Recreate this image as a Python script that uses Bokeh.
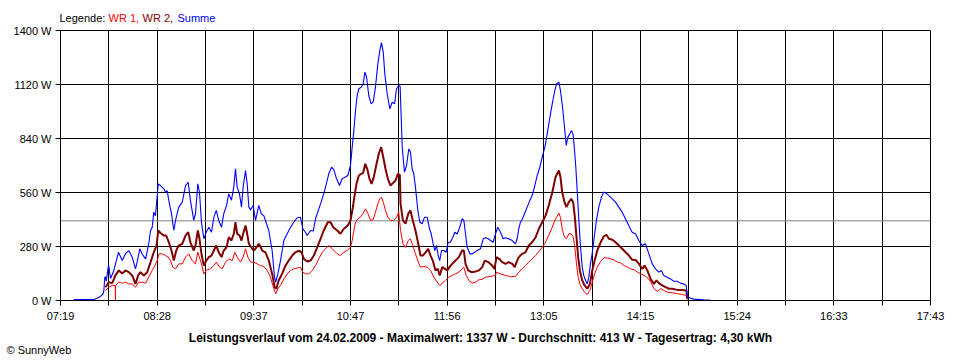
import numpy as np
from bokeh.plotting import figure
from bokeh.layouts import column
from bokeh.models import Range1d, FixedTicker, PrintfTickFormatter, Span, Label
from bokeh.embed import file_html
from bokeh.resources import INLINE

# ---------------- data (time = minutes since midnight, power in W) ----------------
T_START, T_END = 439, 1063          # 07:19 .. 17:43
X_TICK_LABELS = ["07:19", "08:28", "09:37", "10:47", "11:56",
                 "13:05", "14:15", "15:24", "16:33", "17:43"]
Y_TICKS = [0, 280, 560, 840, 1120, 1400]
AVERAGE = 413

t_sum = [448.5, 453.3, 462.9, 465.3, 467.7, 469.6, 470.1, 470.8, 471.3, 471.8, 473.2, 473.6,
         474.9, 477.0, 479.7, 480.6, 483.3, 485.6, 488.0, 490.4, 492.8, 494.0, 495.9, 497.6,
         500.0, 502.3, 503.6, 504.8, 505.9, 507.1, 508.4, 509.1, 510.7, 513.1, 514.3, 515.5,
         516.7, 518.6, 520.3, 521.5, 523.8, 526.3, 528.7, 530.6, 532.2, 534.6, 535.8, 537.5,
         538.7, 540.1, 541.8, 543.5, 545.4, 547.3, 549.0, 550.7, 552.5, 554.5, 556.1, 558.1,
         559.7, 561.6, 563.3, 564.5, 565.7, 567.4, 568.8, 570.0, 571.7, 572.9, 574.1, 575.3,
         577.2, 578.9, 581.2, 583.0, 584.8, 586.0, 588.4, 590.8, 592.5, 593.4, 594.9, 596.8,
         599.2, 601.6, 604.0, 606.3, 608.8, 611.1, 612.8, 614.7, 615.9, 618.3, 620.3, 621.9,
         624.3, 626.7, 629.1, 631.4, 633.4, 635.0, 637.0, 639.1, 641.0, 643.4, 645.1, 647.0,
         648.2, 649.4, 650.6, 651.8, 653.0, 654.7, 656.1, 657.3, 658.5, 660.1, 661.8, 663.3,
         664.9, 666.6, 668.0, 669.2, 670.5, 671.6, 673.3, 675.2, 676.9, 678.6, 680.0, 681.6,
         682.6, 684.1, 685.7, 687.2, 688.8, 690.0, 691.2, 692.4, 693.6, 695.3, 696.7, 698.4,
         700.1, 702.0, 703.4, 704.9, 706.3, 707.5, 708.7, 709.9, 711.0, 712.3, 713.9, 715.6,
         717.1, 718.7, 720.4, 721.8, 723.5, 725.4, 727.1, 728.3, 729.5, 730.7, 732.6, 734.3,
         736.0, 737.9, 740.2, 742.2, 743.8, 745.8, 747.4, 749.3, 751.0, 752.6, 754.6, 756.5,
         758.2, 760.5, 763.0, 765.3, 766.5, 767.7, 768.9, 770.1, 771.8, 773.7, 775.6, 777.3,
         779.2, 780.9, 782.8, 784.5, 786.4, 788.1, 790.0, 791.7, 793.3, 794.8, 796.4, 797.6,
         799.1, 800.5, 801.7, 802.9, 804.3, 805.5, 806.7, 807.7, 808.6, 809.6, 810.8, 812.0,
         813.2, 814.3, 815.6, 816.8, 817.9, 819.1, 820.3, 821.5, 823.4, 825.1, 827.0, 828.6,
         830.6, 832.3, 834.7, 837.1, 839.4, 841.9, 844.2, 846.6, 849.0, 851.4, 853.8, 856.2,
         858.6, 861.0, 863.4, 865.8, 868.1, 869.9, 871.7, 874.2, 876.5, 878.9, 881.3, 883.7,
         886.1, 887.8, 888.5, 890.9, 893.2, 900.4, 905.2]
summe = [5, 5, 5, 12, 21, 35, 52, 121, 121, 100, 173, 181,
         114, 150, 225, 250, 207, 243, 259, 225, 164, 200, 268, 240,
         216, 294, 363, 380, 458, 440, 544, 605, 596, 579, 562, 570,
         518, 450, 363, 415, 484, 510, 596, 613, 518, 415, 450, 605,
         560, 406, 320, 354, 380, 354, 432, 467, 415, 380, 450, 493,
         553, 520, 588, 683, 588, 553, 484, 588, 674, 605, 484, 470,
         493, 415, 493, 450, 440, 415, 363, 259, 121, 95, 138, 207,
         311, 346, 380, 406, 429, 432, 372, 354, 337, 363, 360, 424,
         475, 527, 588, 657, 691, 680, 631, 596, 631, 640, 648, 700,
         795, 881, 985, 1063, 1098, 1106, 1123, 1184, 1160, 1063, 1020, 1030,
         1106, 1227, 1296, 1337, 1288, 1175, 1072, 994, 1028, 1020, 1098, 1115,
         1110, 795, 665, 700, 786, 770, 683, 657, 588, 467, 406, 398,
         432, 432, 380, 346, 294, 259, 285, 233, 207, 259, 259, 250,
         302, 302, 328, 354, 345, 380, 424, 415, 346, 276, 242, 242,
         250, 259, 268, 320, 325, 320, 311, 302, 346, 380, 354, 320,
         325, 320, 311, 294, 320, 372, 406, 420, 450, 484, 518, 544,
         596, 648, 691, 743, 795, 864, 950, 1020, 1080, 1123, 1132, 1089,
         1002, 898, 804, 847, 864, 881, 860, 778, 691, 570, 415, 276,
         173, 130, 104, 86, 121, 190, 242, 311, 415, 484, 536, 562,
         555, 544, 527, 510, 484, 458, 424, 389, 354, 346, 311, 285,
         294, 242, 190, 164, 147, 155, 130, 121, 112, 100, 100, 90,
         86, 78, 21, 12, 7, 3, 2]

t_wr2 = [471.3, 473.6, 476.1, 478.4, 480.8, 483.3, 485.6, 488.0, 490.4, 492.8, 494.7, 496.4,
         498.7, 501.2, 503.6, 505.9, 507.9, 509.1, 510.7, 513.1, 514.8, 516.7, 518.6, 520.3,
         522.0, 523.8, 526.3, 528.7, 530.6, 532.2, 534.6, 535.8, 537.5, 538.7, 540.1, 541.8,
         543.5, 545.4, 547.3, 549.0, 550.7, 552.5, 554.5, 556.1, 558.1, 559.7, 561.6, 563.3,
         564.5, 565.7, 567.4, 568.8, 570.0, 571.7, 572.9, 574.1, 575.8, 577.7, 579.6, 581.2,
         583.7, 586.0, 588.4, 590.8, 592.6, 593.8, 595.5, 597.9, 600.4, 602.7, 605.2, 607.5,
         609.9, 611.9, 613.5, 616.0, 618.3, 620.7, 623.1, 625.5, 627.8, 630.7, 632.7, 634.6,
         637.5, 639.8, 642.2, 645.1, 647.0, 648.7, 650.1, 651.3, 653.0, 654.7, 656.1, 657.6,
         659.0, 660.6, 662.1, 663.7, 665.7, 667.3, 669.0, 670.5, 672.1, 673.8, 675.7, 677.6,
         679.3, 681.0, 682.4, 682.9, 684.6, 686.5, 688.4, 690.0, 691.7, 693.6, 695.6, 697.2,
         698.9, 700.8, 702.7, 704.4, 706.0, 708.0, 709.6, 711.0, 712.8, 714.6, 716.4, 718.0,
         719.9, 722.3, 724.7, 727.1, 728.3, 729.5, 731.4, 733.8, 736.7, 739.0, 741.5, 743.3,
         745.8, 748.6, 750.3, 751.7, 753.9, 755.8, 758.2, 760.5, 763.0, 764.8, 766.1, 767.7,
         770.1, 772.5, 774.9, 777.3, 779.8, 782.1, 784.5, 786.9, 789.3, 791.7, 794.1, 796.5,
         797.6, 798.8, 800.5, 801.9, 803.6, 805.3, 806.7, 807.9, 809.1, 810.3, 811.5, 813.2,
         814.9, 816.8, 818.7, 820.4, 822.1, 824.0, 826.4, 828.8, 830.5, 832.4, 834.8, 837.1,
         839.5, 841.9, 844.3, 846.7, 849.1, 851.5, 853.9, 856.3, 857.9, 859.9, 862.2, 864.6,
         866.5, 868.2, 870.6, 873.0, 875.4, 877.8, 881.4, 885.0, 887.9, 888.6]
wr2 = [69, 95, 90, 130, 156, 140, 156, 147, 130, 86, 130, 147,
       130, 147, 199, 250, 285, 363, 350, 337, 337, 302, 259, 207,
       259, 285, 294, 337, 354, 302, 259, 285, 363, 320, 242, 181,
       207, 225, 233, 259, 285, 250, 225, 259, 276, 328, 311, 346,
       406, 346, 337, 311, 346, 389, 346, 294, 276, 259, 276, 294,
       259, 250, 207, 138, 69, 61, 104, 138, 181, 207, 233, 250,
       259, 250, 216, 202, 207, 233, 276, 320, 363, 406, 406, 380,
       363, 346, 372, 389, 415, 484, 553, 605, 648, 657, 662, 709,
       683, 631, 605, 640, 709, 761, 795, 743, 683, 631, 596, 610,
       622, 657, 650, 501, 415, 398, 450, 467, 415, 363, 294, 233,
       233, 250, 268, 233, 207, 156, 165, 130, 173, 165, 156, 173,
       190, 207, 225, 259, 259, 190, 156, 147, 150, 156, 173, 207,
       199, 181, 164, 225, 215, 199, 190, 199, 190, 173, 199, 225,
       242, 250, 285, 302, 328, 372, 406, 440, 495, 560, 640, 674,
       640, 562, 510, 484, 510, 527, 510, 432, 328, 225, 156, 104,
       78, 61, 86, 156, 207, 259, 302, 333, 341, 320, 315, 302,
       285, 268, 250, 233, 211, 210, 190, 164, 181, 156, 112, 86,
       104, 90, 78, 69, 61, 61, 55, 55, 52, 9]

t_wr1 = [471.3, 473.6, 476.1, 478.3, 478.4, 478.5, 480.8, 483.3, 485.6, 488.0, 490.4, 492.8,
         495.2, 497.6, 500.0, 502.3, 504.8, 506.7, 508.4, 509.6, 512.0, 514.3, 516.3, 517.9,
         519.5, 521.5, 523.8, 526.3, 528.7, 531.0, 533.4, 535.8, 537.5, 540.1, 541.8, 543.5,
         546.6, 549.0, 550.7, 553.1, 555.0, 557.3, 559.7, 562.2, 564.0, 565.7, 568.1, 570.0,
         571.7, 573.4, 575.3, 577.7, 580.1, 582.4, 584.8, 587.2, 589.6, 592.0, 593.4, 594.9,
         596.8, 599.2, 601.6, 604.0, 606.3, 608.8, 611.1, 612.8, 614.7, 617.1, 619.5, 621.9,
         624.3, 626.7, 629.1, 631.4, 633.9, 637.5, 639.8, 642.2, 644.6, 647.0, 648.2, 649.4,
         650.6, 652.3, 654.2, 656.1, 657.8, 659.4, 661.4, 663.3, 664.9, 666.6, 668.0, 669.2,
         670.5, 672.1, 673.8, 675.7, 678.1, 680.0, 681.6, 682.9, 684.6, 686.5, 688.4, 690.0,
         691.7, 693.6, 695.6, 697.2, 699.6, 702.0, 704.4, 706.8, 709.2, 711.0, 712.8, 715.1,
         717.5, 719.9, 722.3, 724.7, 727.1, 728.3, 730.0, 731.9, 734.3, 736.7, 739.0, 741.5,
         743.8, 747.4, 751.0, 751.7, 754.6, 758.2, 761.8, 765.3, 767.7, 770.1, 772.5, 774.9,
         777.3, 779.8, 782.1, 784.5, 786.9, 789.3, 791.7, 794.1, 796.5, 797.6, 798.8, 800.5,
         801.9, 803.6, 805.3, 806.7, 807.9, 809.1, 810.3, 811.5, 813.2, 814.9, 816.8, 818.7,
         820.4, 822.1, 824.0, 826.4, 828.8, 831.2, 833.6, 836.0, 838.4, 840.8, 843.2, 845.6,
         848.0, 850.4, 852.8, 855.2, 857.6, 860.0, 862.4, 864.7, 867.2, 869.6, 872.0, 874.4,
         878.0, 881.6, 885.2, 888.1, 888.6]
wr1 = [52, 69, 78, 78, 0, 78, 95, 90, 95, 86, 86, 69,
       95, 95, 90, 121, 156, 181, 207, 242, 242, 233, 225, 207,
       173, 164, 190, 190, 225, 242, 207, 190, 250, 190, 138, 156,
       165, 181, 199, 173, 164, 199, 216, 207, 250, 225, 199, 225,
       268, 225, 199, 199, 190, 181, 176, 156, 121, 61, 35, 61,
       78, 112, 138, 156, 164, 168, 173, 147, 138, 138, 156, 181,
       216, 250, 268, 285, 268, 242, 233, 250, 259, 276, 311, 363,
       406, 424, 432, 453, 475, 453, 415, 420, 458, 501, 527, 536,
       510, 467, 432, 415, 415, 432, 458, 363, 294, 276, 311, 320,
       285, 242, 199, 173, 176, 173, 156, 121, 95, 78, 90, 104,
       121, 130, 138, 147, 164, 173, 130, 104, 90, 95, 107, 110,
       121, 125, 130, 147, 138, 130, 124, 124, 147, 164, 181, 199,
       216, 233, 254, 276, 302, 340, 380, 424, 453, 430, 372, 328,
       320, 346, 346, 330, 276, 190, 121, 86, 61, 43, 31, 52,
       95, 138, 173, 202, 221, 221, 216, 210, 199, 195, 181, 173,
       164, 160, 147, 138, 130, 118, 95, 61, 47, 61, 52, 43,
       40, 35, 31, 26, 4]

LEGEND_PARTS = [("Legende:", "black"), ("WR 1,", "#ff0000"),
                ("WR 2,", "#800000"), ("Summe", "#0000ff")]
FOOTER = ("Leistungsverlauf vom 24.02.2009 - Maximalwert: 1337 W - "
          "Durchschnitt: 413 W - Tagesertrag: 4,30 kWh")
COPYRIGHT = "© SunnyWeb"

# ---------------- layout ----------------
PAGE_W = 958
FRAME_W, FRAME_H = 870, 270
BORDER_L, BORDER_T, BORDER_B = 60, 6, 24
TOP_H, BOTTOM_H = 24, 34
FONT = "Liberation Sans"


def text_strip(height):
    """A figure without axes whose data units are pixels, used only for texts."""
    f = figure(width=PAGE_W, height=height, frame_width=PAGE_W, frame_height=height,
               x_range=Range1d(0, PAGE_W), y_range=Range1d(0, height),
               x_axis_location=None, y_axis_location=None,
               min_border=0, output_backend="svg", toolbar_location=None,
               background_fill_color="white", border_fill_color="white",
               frame_align=False)
    f.outline_line_color = None
    f.grid.visible = False
    return f


# legend strip (top)
top = text_strip(TOP_H)
legend_x = [59, 108, 142, 177]
for (txt, col), lx in zip(LEGEND_PARTS, legend_x):
    top.add_layout(Label(x=lx, y=TOP_H - 17, text=txt, text_color=col,
                         text_font=FONT, text_font_size="11px",
                         text_baseline="middle", text_align="left"))

# main chart
p = figure(width=PAGE_W, height=FRAME_H + BORDER_T + BORDER_B,
           frame_width=FRAME_W, frame_height=FRAME_H,
           min_border_left=BORDER_L, min_border_right=PAGE_W - FRAME_W - BORDER_L,
           min_border_top=BORDER_T, min_border_bottom=BORDER_B,
           x_range=Range1d(T_START, T_END), y_range=Range1d(Y_TICKS[0], Y_TICKS[-1]),
           output_backend="svg", toolbar_location=None,
           background_fill_color="white", border_fill_color="white",
           frame_align=False)

major = [float(v) for v in np.linspace(T_START, T_END, len(X_TICK_LABELS))]
minor = [(a + b) / 2 for a, b in zip(major[:-1], major[1:])]
xticker = FixedTicker(ticks=major, minor_ticks=minor)
p.xaxis.ticker = xticker
p.xgrid.ticker = xticker
p.xaxis.major_label_overrides = {m: lab for m, lab in zip(major, X_TICK_LABELS)}

p.yaxis.ticker = FixedTicker(ticks=Y_TICKS)
p.yaxis.formatter = PrintfTickFormatter(format="%d W")

for ax in (p.xaxis[0], p.yaxis[0]):
    ax.axis_line_color = "black"
    ax.major_tick_line_color = "black"
    ax.major_tick_out = 5
    ax.major_tick_in = 0
    ax.major_label_text_font = FONT
    ax.major_label_text_font_size = "11px"
    ax.major_label_text_color = "black"
    ax.major_label_standoff = 4
p.xaxis.minor_tick_line_color = "black"
p.xaxis.minor_tick_out = 5
p.xaxis.minor_tick_in = 0
p.yaxis.minor_tick_line_color = None

p.xgrid.grid_line_color = "black"
p.xgrid.minor_grid_line_color = "black"
p.ygrid.grid_line_color = "black"
p.outline_line_color = "black"

p.add_layout(Span(location=AVERAGE, dimension="width", line_color="#808080",
                  line_width=1, level="underlay"))

p.line(t_wr1, wr1, line_color="#ff0000", line_width=1)
p.line(t_wr2, wr2, line_color="#800000", line_width=2)
p.line(t_sum, summe, line_color="#0000ff", line_width=1.1)

# footer strip (bottom)
bottom = text_strip(BOTTOM_H)
bottom.add_layout(Label(x=480, y=BOTTOM_H - 13, text=FOOTER, text_color="black",
                        text_font=FONT, text_font_size="12px", text_font_style="bold",
                        text_baseline="middle", text_align="center"))
bottom.add_layout(Label(x=6, y=BOTTOM_H - 25, text=COPYRIGHT, text_color="black",
                        text_font=FONT, text_font_size="11px",
                        text_baseline="middle", text_align="left"))

layout = column(top, p, bottom, spacing=0)
open("out.html", "w").write(file_html(layout, INLINE))
